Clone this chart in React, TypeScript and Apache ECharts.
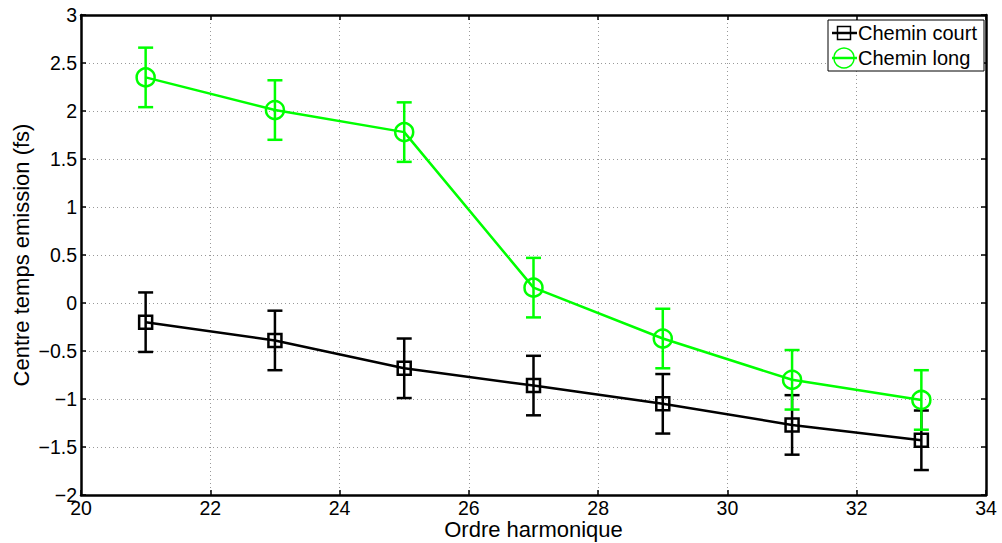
import React, { useEffect, useRef } from "react";
import * as echarts from "echarts";

const harmonics = [21, 23, 25, 27, 29, 31, 33];
const shortPath = [-0.2, -0.39, -0.68, -0.86, -1.05, -1.27, -1.43];
const shortErr = [0.31, 0.31, 0.31, 0.31, 0.31, 0.31, 0.31];
const longPath = [2.35, 2.01, 1.78, 0.16, -0.37, -0.8, -1.01];
const longErr = [0.31, 0.31, 0.31, 0.31, 0.31, 0.31, 0.31];
const seriesNames = ["Chemin court", "Chemin long"];
const xTitle = "Ordre harmonique";
const yTitle = "Centre temps emission (fs)";

const FONT = "Liberation Sans, Arial, Helvetica, sans-serif";
const GREEN = "#00ff00";

const fmt = (v: number) => String(v).replace("-", "\u2212");

function errSeries(vals: number[], errs: number[], color: string) {
  return {
    type: "custom",
    silent: true,
    z: 3,
    data: harmonics.map((x, i) => [x, vals[i] - errs[i], vals[i] + errs[i]]),
    renderItem: (params: any, api: any) => {
      const x = api.value(0);
      const lo = api.coord([x, api.value(1)]);
      const hi = api.coord([x, api.value(2)]);
      const w = 7.5;
      const style = { stroke: color, lineWidth: 2.5, fill: "none" };
      return {
        type: "group",
        children: [
          { type: "line", shape: { x1: lo[0], y1: lo[1], x2: hi[0], y2: hi[1] }, style },
          { type: "line", shape: { x1: lo[0] - w, y1: lo[1], x2: lo[0] + w, y2: lo[1] }, style },
          { type: "line", shape: { x1: hi[0] - w, y1: hi[1], x2: hi[0] + w, y2: hi[1] }, style },
        ],
      };
    },
  };
}

export default function App() {
  const ref = useRef<HTMLDivElement>(null);
  useEffect(() => {
    if (!ref.current) return;
    const chart = echarts.init(ref.current, null, { renderer: "svg" });
    const axisCommon = {
      axisLine: { show: true, onZero: false, lineStyle: { color: "#000", width: 2.5 } },
      axisTick: { show: true, inside: true, length: 5, lineStyle: { color: "#000", width: 1.5 } },
    };
    const L = 828, T = 20;
    chart.setOption({
      animation: false,
      grid: { left: 81, right: 16, top: 15, bottom: 48, containLabel: false, outerBoundsMode: "none" },
      xAxis: [
        {
          type: "value", min: 20, max: 34, interval: 2, position: "bottom",
          ...axisCommon,
          axisLabel: { color: "#000", fontSize: 19.5, fontFamily: FONT, margin: 3, formatter: fmt },
          splitLine: { show: true, lineStyle: { color: "#999", width: 1, type: [1, 3] } },
          name: xTitle, nameLocation: "middle", nameGap: 23, nameMoveOverlap: false,
          nameTextStyle: { color: "#000", fontSize: 22, fontFamily: FONT },
        },
        {
          type: "value", min: 20, max: 34, interval: 2, position: "top",
          ...axisCommon, axisLabel: { show: false }, splitLine: { show: false },
        },
      ],
      yAxis: [
        {
          type: "value", min: -2, max: 3, interval: 0.5, position: "left",
          ...axisCommon,
          axisLabel: { color: "#000", fontSize: 19.5, fontFamily: FONT, margin: 4, formatter: fmt },
          splitLine: { show: true, lineStyle: { color: "#999", width: 1, type: [1, 3] } },
          name: yTitle, nameLocation: "middle", nameGap: 49, nameMoveOverlap: false,
          nameTextStyle: { color: "#000", fontSize: 22, fontFamily: FONT },
        },
        {
          type: "value", min: -2, max: 3, interval: 0.5, position: "right",
          ...axisCommon, axisLabel: { show: false }, splitLine: { show: false },
        },
      ],
      series: [
        {
          name: seriesNames[0], type: "line", z: 4,
          data: harmonics.map((x, i) => [x, shortPath[i]]),
          symbol: "rect", symbolSize: 13,
          lineStyle: { color: "#000", width: 2.5 },
          itemStyle: { color: "rgba(0,0,0,0)", borderColor: "#000", borderWidth: 2.5 },
        },
        errSeries(shortPath, shortErr, "#000"),
        {
          name: seriesNames[1], type: "line", z: 4,
          data: harmonics.map((x, i) => [x, longPath[i]]),
          symbol: "circle", symbolSize: 18,
          lineStyle: { color: GREEN, width: 2.5 },
          itemStyle: { color: "rgba(0,0,0,0)", borderColor: GREEN, borderWidth: 2.5 },
        },
        errSeries(longPath, longErr, GREEN),
      ],
      graphic: [
        { type: "rect", shape: { x: L, y: T, width: 156, height: 51 }, style: { fill: "#fff", stroke: "#000", lineWidth: 1 }, z: 10 },
        { type: "line", shape: { x1: L + 4, y1: T + 13, x2: L + 29, y2: T + 13 }, style: { stroke: "#000", lineWidth: 2.5 }, z: 11 },
        { type: "rect", shape: { x: L + 9.5, y: T + 6.5, width: 13, height: 13 }, style: { fill: "none", stroke: "#000", lineWidth: 1.5 }, z: 11 },
        { type: "text", x: L + 30, y: T + 13, style: { text: seriesNames[0], fontSize: 20, fontFamily: FONT, fill: "#000", verticalAlign: "middle" }, z: 11 },
        { type: "line", shape: { x1: L + 4, y1: T + 38, x2: L + 29, y2: T + 38 }, style: { stroke: GREEN, lineWidth: 2.5 }, z: 11 },
        { type: "circle", shape: { cx: L + 16, cy: T + 38, r: 10 }, style: { fill: "none", stroke: GREEN, lineWidth: 1.5 }, z: 11 },
        { type: "text", x: L + 30, y: T + 38, style: { text: seriesNames[1], fontSize: 20, fontFamily: FONT, fill: "#000", verticalAlign: "middle" }, z: 11 },
      ],
    });
    return () => chart.dispose();
  }, []);
  return <div ref={ref} style={{ width: 1002, height: 543, position: "absolute", left: 0, top: 0, background: "#fff" }} />;
}
